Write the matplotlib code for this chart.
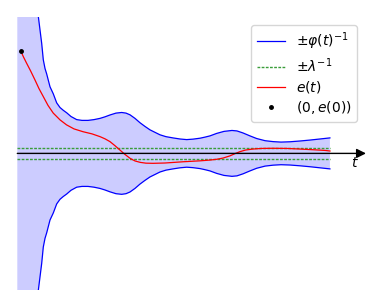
import matplotlib.pyplot as plt

# envelope phi(t)^-1
t_env = [-0.11, 0.40, 0.568, 0.677, 0.729, 0.784, 0.839, 0.945, 1.052, 1.161, 1.268,
         1.374, 1.484, 1.623, 1.806, 1.977, 2.171, 2.365, 2.558, 2.719, 2.881, 3.074,
         3.258, 3.397, 3.526, 3.687, 3.848, 4.01, 4.171, 4.332, 4.494, 4.687, 4.913,
         5.139, 5.355, 5.558, 5.784, 5.945, 6.106, 6.323, 6.558, 6.816, 6.977, 7.171,
         7.397, 7.613, 7.884, 8.142, 8.4, 8.687, 9.01, 9.332, 9.655, 9.977]
phi_inv = [12.0, 6.5, 4.42, 3.55, 3.02, 2.74, 2.56, 2.15, 1.92, 1.63, 1.48,
           1.39, 1.31, 1.19, 1.09, 1.065, 1.065, 1.09, 1.13, 1.18, 1.24, 1.30,
           1.32, 1.30, 1.245, 1.13, 0.99, 0.87, 0.76, 0.68, 0.60, 0.54, 0.50,
           0.465, 0.445, 0.46, 0.49, 0.525, 0.565, 0.645, 0.71, 0.74, 0.725, 0.66,
           0.565, 0.48, 0.41, 0.38, 0.365, 0.375, 0.40, 0.43, 0.465, 0.50]

# error e(t)
t_err = [0.0, 0.09, 0.19, 0.32, 0.46, 0.59, 0.73, 0.88, 1.05, 1.27, 1.48, 1.72,
         2.01, 2.30, 2.56, 2.72, 2.88, 3.04, 3.20, 3.36, 3.53, 3.69, 3.86, 4.04,
         4.27, 4.65, 5.24, 5.78, 6.11, 6.32, 6.53, 6.75, 6.91, 7.07, 7.26, 7.49,
         7.78, 8.14, 8.59, 9.01, 9.49, 9.83, 9.98]
e_val = [3.31, 3.11, 2.91, 2.66, 2.37, 2.09, 1.83, 1.55, 1.30, 1.08, 0.92, 0.79,
         0.70, 0.63, 0.54, 0.47, 0.38, 0.25, 0.11, -0.03, -0.16, -0.245, -0.29, -0.315,
         -0.32, -0.31, -0.27, -0.24, -0.215, -0.19, -0.15, -0.08, -0.01, 0.055, 0.11, 0.14,
         0.16, 0.165, 0.16, 0.14, 0.115, 0.095, 0.077]

lam_inv = 0.171
t_end = 9.98

fig = plt.figure(figsize=(3.83, 3.07), dpi=100)
ax = fig.add_axes([17.3 / 383, (307 - 290.1) / 307, (370 - 17.3) / 383, (290.1 - 16.7) / 307])

ax.fill_between(t_env, [-v for v in phi_inv], phi_inv, color="blue", alpha=0.2, lw=0)
ax.plot(t_env, phi_inv, color="blue", lw=0.9, label=r"$\pm\varphi(t)^{-1}$")
ax.plot(t_env, [-v for v in phi_inv], color="blue", lw=0.9)
green = "#3a9d3a"
ax.plot([-0.11, t_end], [lam_inv, lam_inv], "--", color=green, lw=1, dashes=(2, 1),
        label=r"$\pm\lambda^{-1}$")
ax.plot([-0.11, t_end], [-lam_inv, -lam_inv], "--", color=green, lw=1, dashes=(2, 1))
ax.annotate("", xy=(11.14, 0), xytext=(-0.11, 0), annotation_clip=False,
            arrowprops=dict(arrowstyle="-|>", color="black", lw=1, mutation_scale=14,
                            shrinkA=0, shrinkB=0))
ax.plot(t_err, e_val, color="red", lw=0.9, label=r"$e(t)$")
ax.plot(t_err[0], e_val[0], "k.", ms=5, label=r"$(0, e(0))$")
ax.text(10.78, -0.31, r"$t$", ha="center", va="center", fontsize=10)

ax.set_xlim(-0.11, 11.27)
ax.set_ylim(-4.41, 4.41)
ax.axis("off")

ax.legend(loc="upper right", bbox_to_anchor=(357 / 383, 1 - 25 / 307),
          bbox_transform=fig.transFigure, borderaxespad=0, fontsize=10,
          labelspacing=0.3)

plt.savefig("out.png", dpi=100)
